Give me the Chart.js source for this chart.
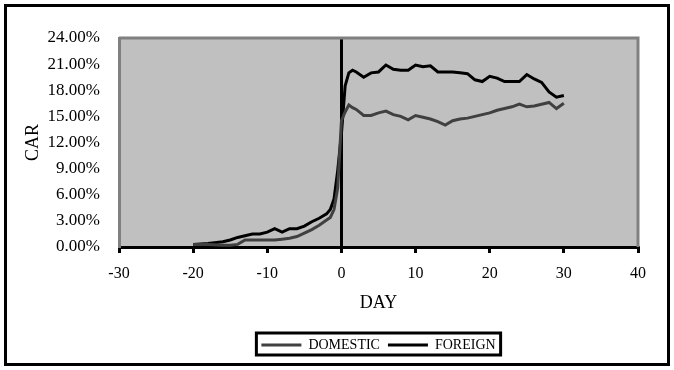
<!DOCTYPE html>
<html>
<head>
<meta charset="utf-8">
<script src="https://cdn.jsdelivr.net/npm/chart.js@4"></script>
<style>
  body { margin: 0; background: #fff; }
  #wrap { width: 674px; height: 370px; position: relative; }
</style>
</head>
<body>
<div id="wrap"><canvas id="car-chart" width="674" height="370"></canvas></div>
<script>
// event window days and CAR (%)
var foreignDays = [-20, -18, -16, -15, -14, -13, -12, -11, -10, -9, -8, -7, -6, -5, -4, -3, -2, -1.5, -1, -0.5, 0, 0.5, 1, 1.5, 2, 3, 4, 5, 6, 7, 8, 9, 10, 11, 12, 13, 14, 15, 16, 17, 18, 19, 20, 21, 22, 23, 24, 25, 26, 27, 28, 29, 30];
var foreignCar = [0.3, 0.4, 0.6, 0.8, 1.1, 1.3, 1.5, 1.5, 1.7, 2.1, 1.7, 2.1, 2.1, 2.4, 2.9, 3.3, 3.8, 4.3, 5.5, 8.8, 13.0, 18.5, 20.0, 20.3, 20.1, 19.5, 20.0, 20.1, 20.9, 20.4, 20.3, 20.3, 20.9, 20.7, 20.8, 20.1, 20.1, 20.1, 20.0, 19.9, 19.2, 19.0, 19.6, 19.4, 19.0, 19.0, 19.0, 19.8, 19.3, 18.9, 17.8, 17.2, 17.4];

var domesticDays = [-20, -18, -16, -15, -14, -13, -12, -11, -10, -9, -8, -7, -6, -5, -4, -3, -2, -1.5, -1, -0.5, 0, 0.5, 1, 1.5, 2, 3, 4, 5, 6, 7, 8, 9, 10, 11, 12, 13, 14, 15, 16, 17, 18, 19, 20, 21, 22, 23, 24, 25, 26, 27, 28, 29, 30];
var domesticCar = [0.3, 0.3, 0.2, 0.2, 0.3, 0.8, 0.8, 0.8, 0.8, 0.8, 0.9, 1.0, 1.2, 1.6, 2.0, 2.5, 3.1, 3.4, 4.3, 6.8, 14.5, 15.5, 16.3, 16.0, 15.8, 15.1, 15.1, 15.4, 15.6, 15.2, 15.0, 14.6, 15.1, 14.9, 14.7, 14.4, 14.0, 14.5, 14.7, 14.8, 15.0, 15.2, 15.4, 15.7, 15.9, 16.1, 16.4, 16.1, 16.2, 16.4, 16.6, 15.9, 16.5];

var seriesNames = ["DOMESTIC", "FOREIGN"];
var xTicks = [-30, -20, -10, 0, 10, 20, 30, 40];
var yTicks = [0, 3, 6, 9, 12, 15, 18, 21, 24];

function toPoints(days, vals) {
  return days.map(function(d, i) { return { x: d, y: vals[i] }; });
}

var serif = "'Liberation Serif', 'Times New Roman', serif";

// white page, outer frame, grey plot area with grey border, boxed legend
var framePlugin = {
  id: "frame",
  afterLayout: function(chart) {
    // centre the legend under the plot area, like the original
    var lg = chart.legend;
    var a = chart.chartArea;
    var shift = (a.left + a.right) / 2 - (lg.left + lg.right) / 2;
    lg.left += shift;
    lg.right += shift;
  },
  beforeDraw: function(chart) {
    var ctx = chart.ctx;
    var a = chart.chartArea;
    ctx.save();
    ctx.fillStyle = "#fff";
    ctx.fillRect(0, 0, chart.width, chart.height);
    ctx.lineWidth = 3;
    ctx.strokeStyle = "#000";
    ctx.strokeRect(5.5, 5.5, chart.width - 11, chart.height - 11);
    ctx.fillStyle = "#c0c0c0";
    ctx.fillRect(a.left, a.top, a.right - a.left, a.bottom - a.top);
    ctx.restore();
  },
  afterDatasetsDraw: function(chart) {
    var ctx = chart.ctx;
    var a = chart.chartArea;
    ctx.save();
    ctx.strokeStyle = "#808080";
    ctx.lineWidth = 3;
    ctx.beginPath();
    ctx.moveTo(a.left, a.top);
    ctx.lineTo(a.right, a.top);
    ctx.lineTo(a.right, a.bottom);
    ctx.stroke();
    ctx.restore();
  },
  afterDraw: function(chart) {
    var lg = chart.legend;
    if (!lg || !lg.legendHitBoxes.length) return;
    var first = lg.legendHitBoxes[0];
    var last = lg.legendHitBoxes[lg.legendHitBoxes.length - 1];
    var ctx = chart.ctx;
    ctx.save();
    ctx.strokeStyle = "#000";
    ctx.lineWidth = 3;
    ctx.strokeRect(first.left - 5, first.top - 5, last.left + last.width - first.left + 10, first.height + 8);
    ctx.restore();
  }
};

new Chart(document.getElementById("car-chart").getContext("2d"), {
  type: "scatter",
  data: {
    datasets: [
      {
        label: seriesNames[0],
        data: toPoints(domesticDays, domesticCar),
        showLine: true,
        borderColor: "#404040",
        backgroundColor: "#404040",
        borderWidth: 3,
        pointRadius: 0,
        tension: 0
      },
      {
        label: seriesNames[1],
        data: toPoints(foreignDays, foreignCar),
        showLine: true,
        borderColor: "#000",
        backgroundColor: "#000",
        borderWidth: 3,
        pointRadius: 0,
        tension: 0
      }
    ]
  },
  options: {
    responsive: false,
    animation: false,
    layout: { padding: { left: 10, right: 36, top: 38, bottom: 8 } },
    plugins: {
      tooltip: { enabled: false },
      legend: {
        position: "bottom",
        labels: {
          usePointStyle: true,
          pointStyle: "line",
          pointStyleWidth: 40,
          color: "#000",
          padding: 8,
          font: { family: serif, size: 14 }
        }
      }
    },
    scales: {
      x: {
        type: "linear",
        min: -30,
        max: 40,
        afterBuildTicks: function(scale) {
          scale.ticks = xTicks.map(function(v) { return { value: v }; });
        },
        afterFit: function(scale) { scale.height = 83; },
        ticks: {
          color: "#000",
          padding: 11,
          maxRotation: 0,
          font: { family: serif, size: 16 }
        },
        grid: {
          color: function(c) { return c.tick && c.tick.value === 0 ? "#000" : "rgba(0,0,0,0)"; },
          lineWidth: 3,
          tickColor: "#000",
          tickLength: 6,
          drawOnChartArea: true
        },
        border: { color: "#000", width: 3 },
        title: {
          display: true,
          text: "DAY",
          color: "#000",
          padding: { top: 6, bottom: 16 },
          font: { family: serif, size: 18 }
        }
      },
      y: {
        min: 0,
        max: 24,
        afterBuildTicks: function(scale) {
          scale.ticks = yTicks.map(function(v) { return { value: v }; });
        },
        afterFit: function(scale) { scale.width = 109; },
        ticks: {
          color: "#000",
          padding: 11,
          font: { family: serif, size: 17 },
          callback: function(v) { return v.toFixed(2) + "%"; }
        },
        grid: { display: false },
        border: { color: "#808080", width: 3 },
        title: {
          display: true,
          text: "CAR",
          color: "#000",
          padding: { top: 12, bottom: 0 },
          font: { family: serif, size: 18 }
        }
      }
    }
  },
  plugins: [framePlugin]
});
</script>
</body>
</html>
